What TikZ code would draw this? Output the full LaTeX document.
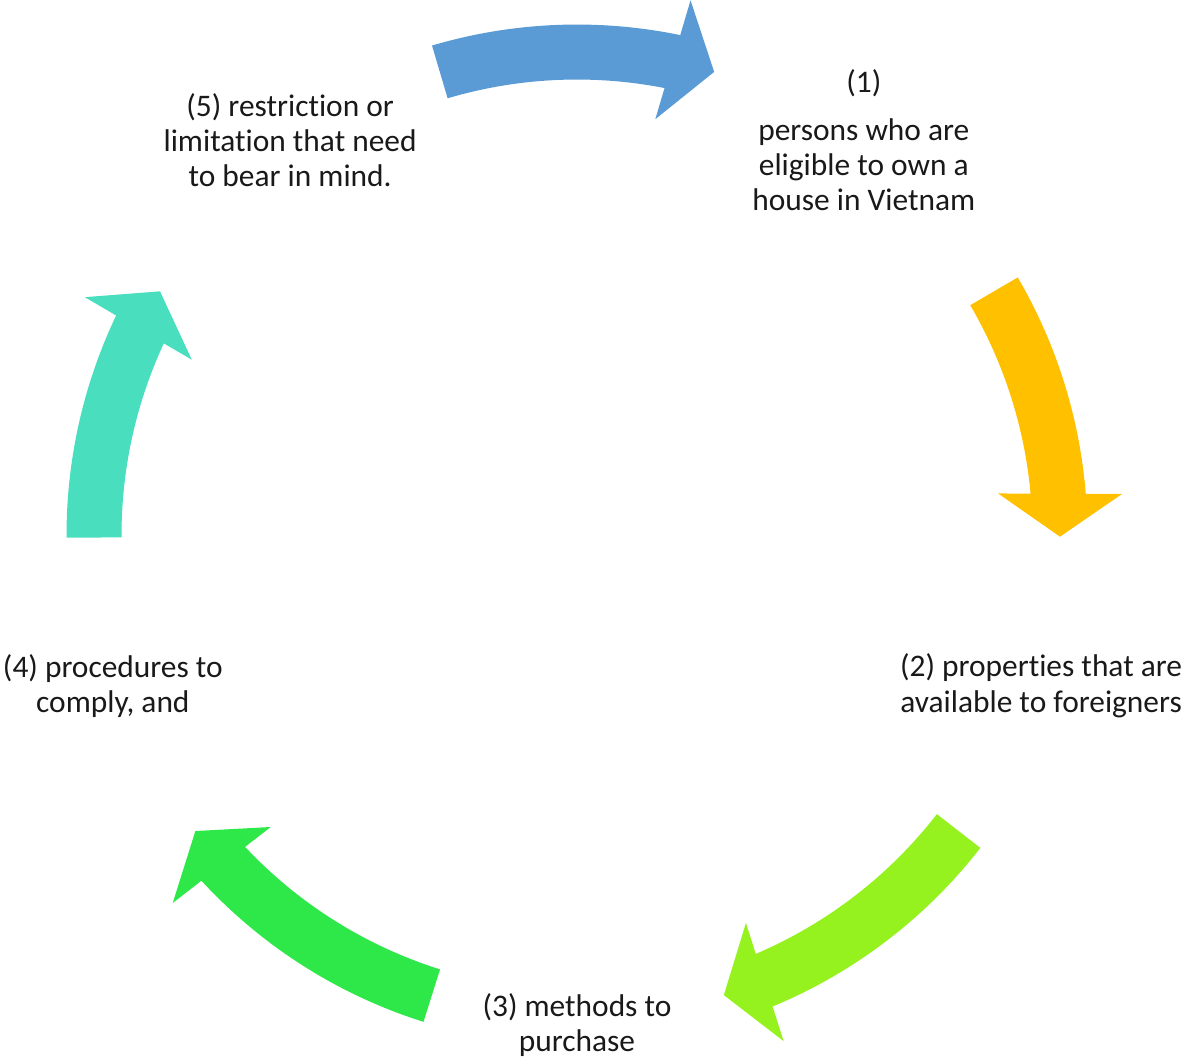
\documentclass[tikz,border=0pt]{standalone}
\usepackage{fontspec}
\setmainfont{Carlito}[Ligatures=NoCommon]
\usetikzlibrary{positioning}
\definecolor{cycblue}{RGB}{91,155,213}
\definecolor{cycyellow}{RGB}{255,192,0}
\definecolor{cyclime}{RGB}{149,242,30}
\definecolor{cycgreen}{RGB}{46,232,74}
\definecolor{cycteal}{RGB}{72,222,190}
\newcommand{\cycarrow}[3]{% colour, tail angle, tip angle
  \begin{scope}[rotate=#3]
    \pgfmathsetmacro{\cycspan}{#2-#3}
    \fill[#1] (\cycspan:510.5) arc[start angle=\cycspan, end angle=4.83, radius=510.5]
      -- (545,43) -- (483,0) -- (421,43) -- (5.42:455.5)
      arc[start angle=5.42, end angle=\cycspan, radius=455.5] -- cycle;
  \end{scope}}

\begin{document}
\begin{tikzpicture}[x=0.5pt, y=0.5pt,
    item/.style={align=center, inner sep=0pt, text=black!90,
                 font=\fontsize{15.7}{17.6}\selectfont}
  ]
    \useasboundingbox (-577,-522) rectangle (608,535);
    \coordinate (hub) at (0,0);
    \node[item] (who) at (54:488) {(1)\\[6.4pt]persons who are\\eligible to own a\\house in Vietnam};
    \node[item] (props) at (-18:488) {(2) properties that are\\available to foreigners};
    \node[item] (methods) at (-90:490) {(3) methods to\\purchase};
    \node[item] (procs) at (-162:488) {(4) procedures to\\comply, and};
    \node[item] (limits) at (126:488) {(5) restriction or\\limitation that need\\to bear in mind.};
    \cycarrow{cycblue}{106.5}{73.5}
    \cycarrow{cycyellow}{30.3}{-0.2}
    \cycarrow{cyclime}{-37.8}{-72.3}
    \cycarrow{cycgreen}{-107.5}{-142.2}
    \cycarrow{cycteal}{180.3}{149.7}
  \end{tikzpicture}
\end{document}
